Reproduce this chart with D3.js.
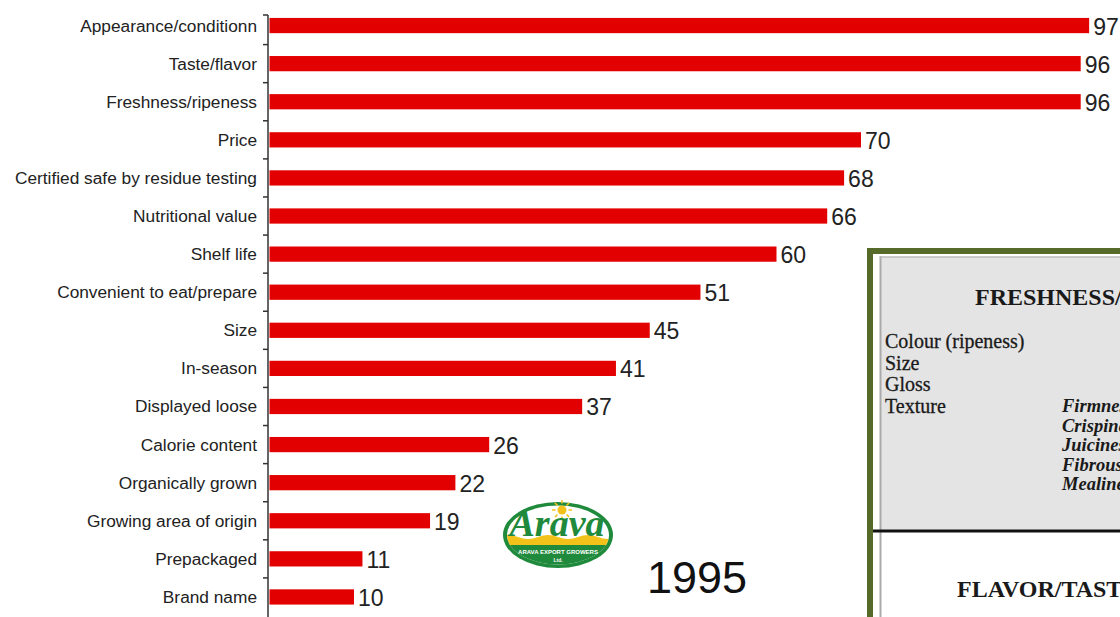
<!DOCTYPE html>
<html>
<head>
<meta charset="utf-8">
<script src="https://cdn.jsdelivr.net/npm/d3@7"></script>
<style>
  html, body { margin: 0; padding: 0; background: #fff; }
  svg { display: block; }
</style>
</head>
<body>
<div id="chart"></div>
<script>
// Chart data
const categories = [
    "Appearance/conditionn", "Taste/flavor", "Freshness/ripeness", "Price",
    "Certified safe by residue testing", "Nutritional value", "Shelf life",
    "Convenient to eat/prepare", "Size", "In-season", "Displayed loose",
    "Calorie content", "Organically grown", "Growing area of origin",
    "Prepackaged", "Brand name"
];
const values = [97, 96, 96, 70, 68, 66, 60, 51, 45, 41, 37, 26, 22, 19, 11, 10];

// Side panel text
const panelTitle = "FRESHNESS/APPEARANCE";
const panelItems = ["Colour (ripeness)", "Size", "Gloss", "Texture"];
const textureItems = ["Firmness", "Crispiness", "Juiciness", "Fibrousness", "Mealiness"];
const panelTitle2 = "FLAVOR/TASTE";
const yearLabel = "1995";

const width = 1120, height = 617;

const svg = d3.select("#chart").append("svg")
    .attr("width", width)
    .attr("height", height);

// Scales
const x = d3.scaleLinear().domain([0, 100]).range([269.5, 1114.5]);
const y = d3.scaleBand().domain(categories)
    .range([6.5, 616])
    .paddingInner(0.6)
    .paddingOuter(0.3);

// Axis line with ticks between the bars
const axisX = 268;
svg.append("line")
    .attr("x1", axisX).attr("x2", axisX)
    .attr("y1", 15).attr("y2", height)
    .attr("stroke", "#333").attr("stroke-width", 1.5);

const tickYs = [15].concat(categories.slice(1).map(c => y(c) - y.step() * y.paddingInner() / 2));
svg.selectAll(".tick")
    .data(tickYs)
    .enter().append("line")
    .attr("x1", axisX - 5).attr("x2", axisX)
    .attr("y1", d => d).attr("y2", d => d)
    .attr("stroke", "#333").attr("stroke-width", 1.5);

// Bars
svg.selectAll(".bar")
    .data(categories)
    .enter().append("rect")
    .attr("x", x(0))
    .attr("y", d => y(d))
    .attr("width", (d, i) => x(values[i]) - x(0))
    .attr("height", y.bandwidth())
    .attr("fill", "#e30000");

// Category labels
svg.selectAll(".cat")
    .data(categories)
    .enter().append("text")
    .attr("x", 257)
    .attr("y", d => y(d) + y.bandwidth() / 2)
    .attr("text-anchor", "end")
    .attr("dominant-baseline", "central")
    .style("font-family", "Arial, 'Liberation Sans', sans-serif")
    .style("font-size", "17.3px")
    .style("fill", "#222")
    .text(d => d);

// Value labels
svg.selectAll(".val")
    .data(categories)
    .enter().append("text")
    .attr("x", (d, i) => x(values[i]) + 4)
    .attr("y", d => y(d) + y.bandwidth() / 2 + 1)
    .attr("dominant-baseline", "central")
    .style("font-family", "Arial, 'Liberation Sans', sans-serif")
    .style("font-size", "23px")
    .style("fill", "#222")
    .text((d, i) => values[i]);

// Year label
svg.append("text")
    .attr("x", 647).attr("y", 593)
    .style("font-family", "Arial, 'Liberation Sans', sans-serif")
    .style("font-size", "45px")
    .style("fill", "#111")
    .text(yearLabel);

// Logo
const logo = svg.append("g").attr("transform", "translate(558,535)");
logo.append("ellipse").attr("rx", 55).attr("ry", 33).attr("fill", "#1f8a3b");
logo.append("clipPath").attr("id", "logoClip")
    .append("ellipse").attr("rx", 51).attr("ry", 29.5);
const inner = logo.append("g").attr("clip-path", "url(#logoClip)");
inner.append("rect").attr("x", -60).attr("y", -40).attr("width", 120).attr("height", 80).attr("fill", "#fff");
inner.append("path")
    .attr("d", "M-60,2 Q-50,-2 -40,2 T-20,2 T0,2 T20,2 T40,2 T60,2 L60,12 L-60,12 Z")
    .attr("fill", "#f2c21b");
inner.append("rect").attr("x", -60).attr("y", 10).attr("width", 120).attr("height", 30).attr("fill", "#1f8a3b");
const sun = logo.append("g").attr("transform", "translate(4,-25)");
sun.append("circle").attr("r", 4.5).attr("fill", "#f2c21b");
sun.selectAll("line").data(d3.range(8)).enter().append("line")
    .attr("x1", d => 6.5 * Math.cos(d * Math.PI / 4))
    .attr("y1", d => 6.5 * Math.sin(d * Math.PI / 4))
    .attr("x2", d => 10 * Math.cos(d * Math.PI / 4))
    .attr("y2", d => 10 * Math.sin(d * Math.PI / 4))
    .attr("stroke", "#f2c21b").attr("stroke-width", 1.5);
logo.append("text")
    .attr("x", -1).attr("y", 1)
    .attr("text-anchor", "middle")
    .style("font-family", "'Liberation Serif', 'Times New Roman', serif")
    .style("font-style", "italic").style("font-weight", "bold")
    .style("font-size", "38px")
    .style("fill", "#1f8a3b")
    .text("Arava");
logo.append("text")
    .attr("x", 0).attr("y", 19)
    .attr("text-anchor", "middle")
    .style("font-family", "Arial, sans-serif").style("font-weight", "bold")
    .style("font-size", "6px").style("fill", "#fff")
    .text("ARAVA EXPORT GROWERS");
logo.append("text")
    .attr("x", 0).attr("y", 27)
    .attr("text-anchor", "middle")
    .style("font-family", "Arial, sans-serif").style("font-weight", "bold")
    .style("font-size", "5px").style("fill", "#fff")
    .text("Ltd.");

// Side panel (cut off by the right edge)
const panel = svg.append("g");
panel.append("rect")
    .attr("x", 870).attr("y", 251).attr("width", 300).attr("height", 420)
    .attr("fill", "#fff").attr("stroke", "#566a2a").attr("stroke-width", 6);
panel.append("rect")
    .attr("x", 881).attr("y", 257).attr("width", 260).attr("height", 274)
    .attr("fill", "#e4e4e4");
panel.append("line")
    .attr("x1", 880.5).attr("x2", 880.5).attr("y1", 256).attr("y2", height)
    .attr("stroke", "#aaa").attr("stroke-width", 2);
panel.append("line")
    .attr("x1", 880).attr("x2", width).attr("y1", 257).attr("y2", 257)
    .attr("stroke", "#bbb").attr("stroke-width", 1.5);
panel.append("line")
    .attr("x1", 873).attr("x2", width).attr("y1", 531).attr("y2", 531)
    .attr("stroke", "#111").attr("stroke-width", 3);

const serif = "'Liberation Serif', 'Times New Roman', serif";
panel.append("text")
    .attr("x", 975).attr("y", 305)
    .style("font-family", serif).style("font-weight", "bold")
    .style("font-size", "24px").style("fill", "#1a1a1a")
    .text(panelTitle);
panel.selectAll(".item")
    .data(panelItems)
    .enter().append("text")
    .attr("x", 885)
    .attr("y", (d, i) => 348 + i * 21.5)
    .style("font-family", serif)
    .style("font-size", "20px").style("fill", "#1a1a1a")
    .style("stroke", "#1a1a1a").style("stroke-width", 0.3)
    .text(d => d);
panel.selectAll(".texture")
    .data(textureItems)
    .enter().append("text")
    .attr("x", 1062)
    .attr("y", (d, i) => 412 + i * 19.5)
    .style("font-family", serif)
    .style("font-style", "italic").style("font-weight", "bold")
    .style("font-size", "18.5px").style("fill", "#1a1a1a")
    .text(d => d);
panel.append("text")
    .attr("x", 957).attr("y", 597)
    .style("font-family", serif).style("font-weight", "bold")
    .style("font-size", "24px").style("fill", "#1a1a1a")
    .text(panelTitle2);
</script>
</body>
</html>
